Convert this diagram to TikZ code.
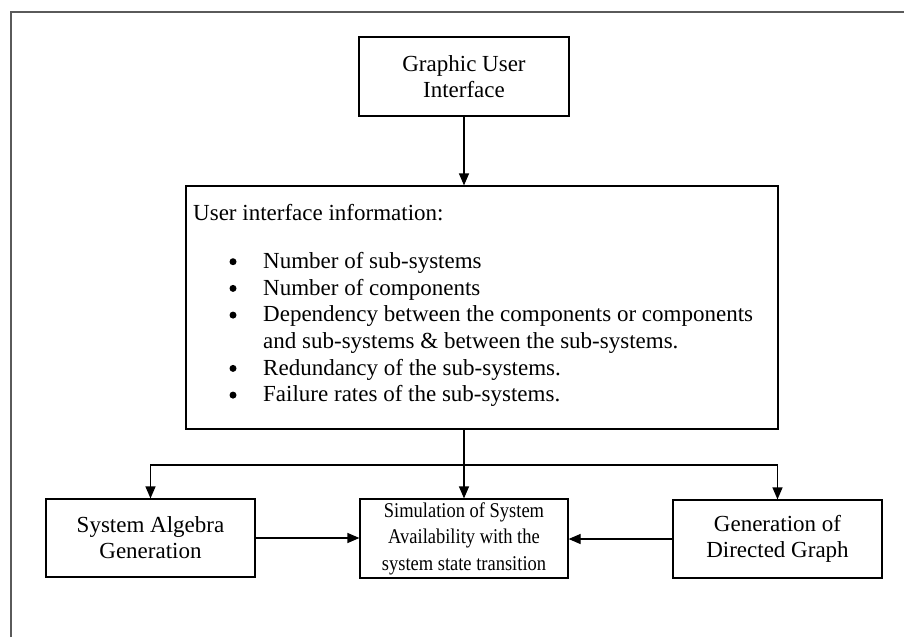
\documentclass[tikz,border=0pt]{standalone}
\usepackage{fontspec}
\setmainfont{Liberation Serif}
\newfontfamily\narrowserif[FakeStretch=0.88]{Liberation Serif}
\usetikzlibrary{arrows.meta}
\definecolor{framegray}{HTML}{5A5A5A}

\begin{document}
\begin{tikzpicture}[x=1pt,y=-1pt,
  box/.style={draw,line width=1.2pt,inner sep=0pt,align=center,
    font=\fontsize{23}{26}\selectfont},
  smallbox/.style={box,font=\narrowserif\fontsize{21}{26.5}\selectfont},
  arr/.style={line width=1.2pt,-{Triangle[width=10pt,length=12pt]}},
  body/.style={anchor=base west,inner sep=0pt,font=\fontsize{23}{26}\selectfont},
  dot/.style={circle,fill=black,inner sep=0pt,minimum size=7pt}]
\useasboundingbox (0,0) rectangle (904,637);

% outer frame (top and left edges)
\draw[framegray,line width=2pt] (11,637) -- (11,12) -- (904,12);

% boxes
\node[box,minimum width=210pt,minimum height=79pt] (gui) at (464,76.5)
  {Graphic User\\Interface};
\node[draw,line width=1.2pt,minimum width=592pt,minimum height=243pt,inner sep=0pt]
  (info) at (482,307.5) {};
\node[box,minimum width=209pt,minimum height=78pt] (alg) at (150.5,538)
  {System Algebra\\Generation};
\node[smallbox,minimum width=208pt,minimum height=79pt] (sim) at (464,538.5)
  {Simulation of System\\Availability with the\\system state transition};
\node[box,minimum width=209pt,minimum height=78pt] (gen) at (777.5,539)
  {Generation of\\Directed Graph};

% contents of the information box
\node[body] (hdr) at (193,220) {User interface information:};
\node[dot] (bu1) at (233,261.7) {};
\node[dot] (bu2) at (233,288.4) {};
\node[dot] (bu3) at (233,315.1) {};
\node[dot] (bu4) at (233,368.4) {};
\node[dot] (bu5) at (233,395.1) {};
\node[body] (it1) at (263,268.3) {Number of sub-systems};
\node[body] (it2) at (263,295.0) {Number of components};
\node[body] (it3) at (263,321.7) {Dependency between the components or components};
\node[body] (it3b) at (263,348.4) {and sub-systems \& between the sub-systems.};
\node[body] (it4) at (263,375.0) {Redundancy of the sub-systems.};
\node[body] (it5) at (263,401.7) {Failure rates of the sub-systems.};

% connectors
\draw[arr] (gui.south) -- (gui.south |- info.north);
\coordinate (split) at (464,465);
\draw[arr] (sim.north |- info.south) -- (sim.north);
\draw[arr] (split) -| (alg.north);
\draw[arr] (split) -| (gen.north);
\draw[arr] (alg.east) -- (alg.east -| sim.west);
\draw[arr] (gen.west) -- (gen.west -| sim.east);
\end{tikzpicture}
\end{document}
